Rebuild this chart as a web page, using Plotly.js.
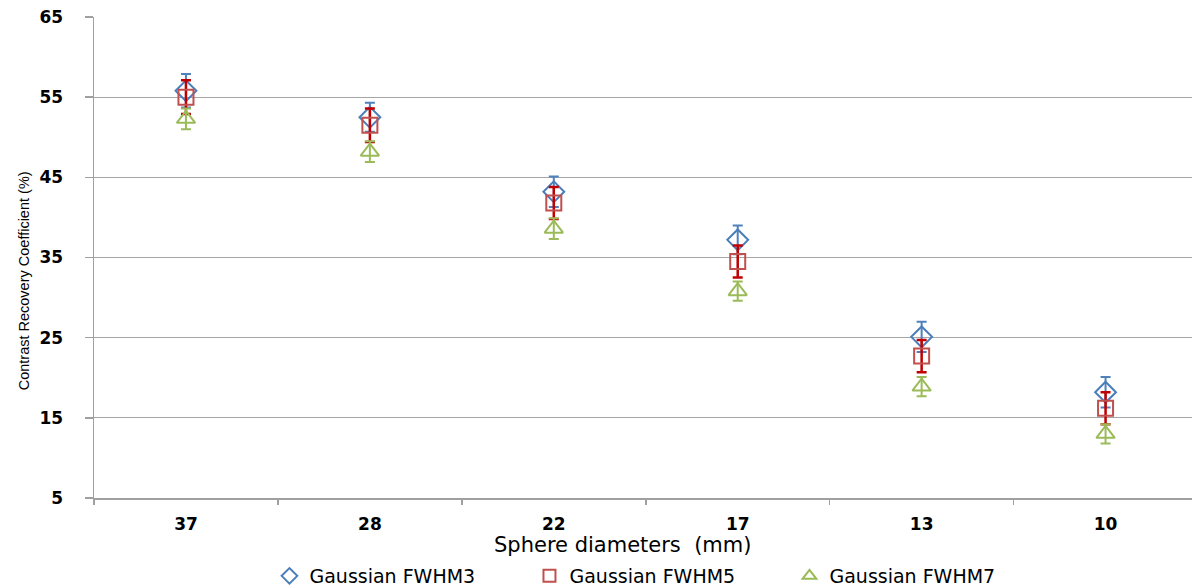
<!DOCTYPE html>
<html>
<head>
<meta charset="utf-8">
<script src="https://cdn.plot.ly/plotly-3.0.1.min.js"></script>
<style>html,body{margin:0;padding:0;background:#fff;}#chart{width:1192px;height:588px;}</style>
</head>
<body>
<div id="chart"></div>
<script>
const categories = ["37", "28", "22", "17", "13", "10"];
const fwhm3 = [55.8, 52.5, 43.2, 37.2, 25.1, 18.2];
const fwhm3Err = [2.1, 1.8, 1.9, 1.8, 1.9, 1.9];
const fwhm5 = [55.0, 51.5, 41.8, 34.5, 22.7, 16.2];
const fwhm5Err = [2.1, 2.1, 2.0, 2.0, 2.0, 2.0];
const fwhm7 = [52.3, 48.2, 38.6, 30.8, 18.9, 13.0];
const fwhm7Err = [1.3, 1.3, 1.3, 1.2, 1.2, 1.2];
const seriesNames = ["Gaussian FWHM3", "Gaussian FWHM5", "Gaussian FWHM7"];
const yTicks = [5, 15, 25, 35, 45, 55, 65];
const xTitle = 'Sphere diameters  (mm)';
const yTitle = 'Contrast Recovery Coefficient (%)';

const traces = [
  {
    x: categories, y: fwhm3, name: seriesNames[0], type: 'scatter', mode: 'markers',
    marker: {symbol: 'diamond-open', size: 16, color: '#4A7EBB', line: {width: 2, color: '#4A7EBB'}},
    error_y: {type: 'data', array: fwhm3Err, visible: true, color: '#4F81BD', thickness: 2, width: 5}
  },
  {
    x: categories, y: fwhm5, name: seriesNames[1], type: 'scatter', mode: 'markers',
    marker: {symbol: 'square-open', size: 15, color: '#C0504D', line: {width: 2, color: '#C0504D'}},
    error_y: {type: 'data', array: fwhm5Err, visible: true, color: '#C00000', thickness: 2.5, width: 5}
  },
  {
    x: categories, y: fwhm7, name: seriesNames[2], type: 'scatter', mode: 'markers',
    marker: {symbol: 'triangle-up-open', size: 16, color: '#9BBB59', line: {width: 2, color: '#9BBB59'}},
    error_y: {type: 'data', array: fwhm7Err, visible: true, color: '#9BBB59', thickness: 2, width: 5}
  }
];

const baseFont = {family: 'DejaVu Sans, Verdana, sans-serif', color: '#000'};

const layout = {
  width: 1192, height: 588,
  margin: {l: 94, r: 0, t: 17, b: 90},
  paper_bgcolor: '#fff', plot_bgcolor: '#fff',
  showlegend: true,
  legend: {
    orientation: 'h', xref: 'paper', x: 0.515, xanchor: 'center',
    yref: 'container', y: 0.0204, yanchor: 'middle',
    font: Object.assign({}, baseFont, {size: 19}),
    itemsizing: 'constant', entrywidth: 215, entrywidthmode: 'pixels',
    traceorder: 'normal', tracegroupgap: 0
  },
  xaxis: {
    type: 'category', range: [-0.5, 5.47],
    showgrid: false, zeroline: false,
    showline: true, linecolor: '#A0A0A0', linewidth: 1.5,
    ticks: 'outside', ticklen: 5, tickcolor: '#A0A0A0', tickwidth: 1.5,
    tickson: 'boundaries', ticklabelstandoff: 10,
    tickfont: Object.assign({}, baseFont, {size: 17, weight: 'bold'})
  },
  yaxis: {
    range: [5, 65], tickvals: yTicks, ticktext: yTicks.map(String),
    showgrid: true, gridcolor: '#A6A6A6', gridwidth: 1.2,
    zeroline: false,
    showline: true, linecolor: '#A0A0A0', linewidth: 1.5,
    ticks: 'outside', ticklen: 8, tickcolor: '#A0A0A0', tickwidth: 1.5,
    ticklabelstandoff: 18,
    tickfont: Object.assign({}, baseFont, {size: 17, weight: 'bold'})
  },
  annotations: [
    {text: xTitle, xref: 'paper', yref: 'paper', x: 0.481, y: -0.098, xanchor: 'center', yanchor: 'middle',
     showarrow: false, font: Object.assign({}, baseFont, {size: 21})},
    {text: yTitle, xref: 'paper', yref: 'paper', x: -0.064, y: 0.452, xanchor: 'center', yanchor: 'middle',
     textangle: -90, showarrow: false,
     font: {family: 'Liberation Sans Narrow, Liberation Sans, Arial, sans-serif', size: 14.5, color: '#000'}}
  ]
};

Plotly.newPlot('chart', traces, layout, {displayModeBar: false, staticPlot: true});
</script>
</body>
</html>
